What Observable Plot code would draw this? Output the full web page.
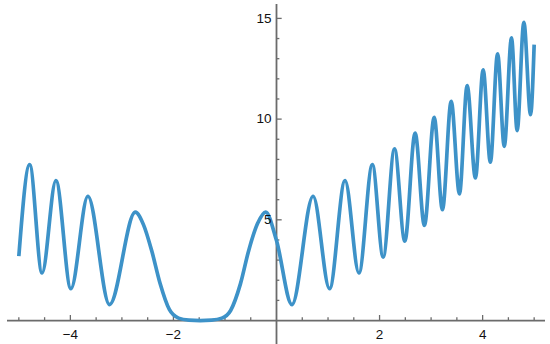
<!DOCTYPE html>
<html>
<head>
<meta charset="utf-8">
<script src="https://cdn.jsdelivr.net/npm/d3@7"></script>
<script src="https://cdn.jsdelivr.net/npm/@observablehq/plot@0.6"></script>
<style>
  html, body { margin: 0; padding: 0; background: #fff; }
</style>
</head>
<body>
<div id="chart"></div>
<script>
// Curve points (x, y)
const curveX = [-5.00, -4.79, -4.55, -4.28, -3.99, -3.66, -3.24, -2.74, -2.58, -2.42, -2.26, -2.08, -1.90, -1.70, -1.48, -1.26, -1.06, -0.89, -0.70, -0.54, -0.37, -0.21, 0.00, 0.30, 0.71, 1.03, 1.33, 1.60, 1.86, 2.07, 2.29, 2.49, 2.69, 2.87, 3.06, 3.22, 3.39, 3.55, 3.70, 3.86, 4.01, 4.15, 4.29, 4.42, 4.56, 4.67, 4.80, 4.93, 5.00];
const curveY = [3.20, 7.74, 2.36, 6.95, 1.58, 6.17, 0.79, 5.38, 4.75, 3.45, 1.85, 0.55, 0.12, 0.02, 0.00, 0.02, 0.12, 0.50, 1.82, 3.47, 4.80, 5.38, 3.97, 0.79, 6.17, 1.58, 6.95, 2.36, 7.74, 3.15, 8.52, 3.94, 9.31, 4.72, 10.09, 5.50, 10.88, 6.29, 11.66, 7.08, 12.45, 7.86, 13.24, 8.65, 14.03, 9.43, 14.81, 10.22, 13.70];

// Axis ticks
const xMajor = [-4, -2, 2, 4];
const xMinor = [-5, -4.5, -3.5, -3, -2.5, -1.5, -1, -0.5, 0.5, 1, 1.5, 2.5, 3, 3.5, 4.5, 5];
const yMajor = [5, 10, 15];
const yMinor = [1, 2, 3, 4, 6, 7, 8, 9, 11, 12, 13, 14];

const points = curveX.map((x, i) => ({x, y: curveY[i]}));
const fmt = d => (d < 0 ? "\u2212" + Math.abs(d) : String(d));

const axisColor = "#6b6b6b";
const font = "Liberation Sans, Arial, Helvetica, sans-serif";

const chart = Plot.plot({
  width: 550,
  height: 344,
  marginLeft: 7,
  marginRight: 5,
  marginTop: 4,
  marginBottom: 0,
  x: {domain: [-5.22, 5.22], axis: null},
  y: {domain: [-1.19, 15.69], axis: null},
  marks: [
    Plot.ruleY([0], {stroke: axisColor, strokeWidth: 1.8}),
    Plot.ruleX([0], {stroke: axisColor, strokeWidth: 1.8}),
    Plot.ruleX(xMajor, {x: d => d, y1: () => 0, y2: () => 0.25, stroke: axisColor, strokeWidth: 1.3}),
    Plot.ruleX(xMinor, {x: d => d, y1: () => 0, y2: () => 0.14, stroke: axisColor, strokeWidth: 1.3}),
    Plot.ruleY(yMajor, {y: d => d, x1: () => 0, x2: () => 0.11, stroke: axisColor, strokeWidth: 1.3}),
    Plot.ruleY(yMinor, {y: d => d, x1: () => 0, x2: () => 0.065, stroke: axisColor, strokeWidth: 1.3}),
    Plot.line(points, {x: "x", y: "y", curve: "monotone-x", stroke: "#3d92c8", strokeWidth: 3.7, strokeLinecap: "butt", strokeLinejoin: "round"}),
    Plot.text(xMajor, {x: d => d, y: () => 0, text: fmt, dy: 14, fontSize: 13.5, fontFamily: font, fill: "#111"}),
    Plot.text(yMajor, {x: () => 0, y: d => d, text: fmt, dx: -5, textAnchor: "end", fontSize: 13.5, fontFamily: font, fill: "#111"})
  ]
});
document.getElementById("chart").appendChild(chart);
</script>
</body>
</html>
